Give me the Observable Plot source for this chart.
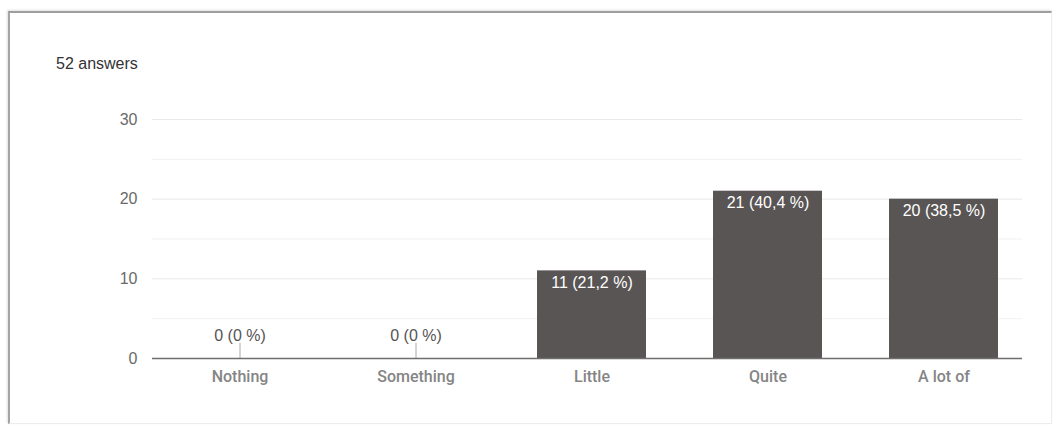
<!DOCTYPE html>
<html>
<head>
<meta charset="utf-8">
<script src="https://cdn.jsdelivr.net/npm/d3@7"></script>
<script src="https://cdn.jsdelivr.net/npm/@observablehq/plot@0.6"></script>
<style>
  html, body { margin: 0; padding: 0; background: #fff; }
  body { width: 1056px; height: 427px; position: relative; overflow: hidden; }
  .card {
    position: absolute; left: 8px; top: 11px; width: 1044px; height: 413px;
    border-top: 2px solid #9e9e9e; border-left: 2px solid #a4a4a4;
    border-right: 1px solid #ececec; border-bottom: 1px solid #ececec;
    box-shadow: -1px -1px 2px rgba(0,0,0,0.12);
    box-sizing: border-box;
  }
  .count {
    position: absolute; left: 56px; top: 55px;
    font: 16px "Liberation Sans", Arial, sans-serif; color: #333;
  }
  #chart { position: absolute; left: 0; top: 90px; }
</style>
</head>
<body>
<div class="card"></div>
<div class="count" id="count"></div>
<div id="chart"></div>
<script>
// Survey responses per answer option
const categories = ["Nothing", "Something", "Little", "Quite", "A lot of"];
const counts = [0, 0, 11, 21, 20];
const totalAnswers = 52;
const yTicks = [0, 10, 20, 30];
const yMajor = [10, 20, 30];
const yMinor = [5, 15, 25];

document.getElementById("count").textContent = `${totalAnswers} answers`;

const pct = v => {
  const p = (v / totalAnswers * 100).toFixed(1).replace(".", ",");
  return p.endsWith(",0") ? p.slice(0, -2) : p;
};
const rows = categories.map((c, i) => ({
  category: c,
  count: counts[i],
  label: `${counts[i]} (${pct(counts[i])} %)`
}));
const zeroRows = rows.filter(d => d.count === 0);
const barRows = rows.filter(d => d.count > 0);

const W = 1056, H = 310;
const chart = Plot.plot({
  width: W,
  height: H,
  marginLeft: 152,
  marginRight: W - 1022,
  marginTop: 29,
  marginBottom: 42,
  style: { fontFamily: "'Liberation Sans', Arial, sans-serif", fontSize: "16px", background: "transparent" },
  x: { domain: categories, range: [152, 1032], paddingInner: 0.38, paddingOuter: 0.19, label: null },
  y: { domain: [0, 30], label: null },
  marks: [
    Plot.gridY(yMinor, { stroke: "#f1f1f1", strokeOpacity: 1 }),
    Plot.gridY(yMajor, { stroke: "#e8e8e8", strokeOpacity: 1 }),
    Plot.axisY(yTicks, { tickSize: 0, tickPadding: 15, fill: "#6a6a6a", fontSize: 16, label: null }),
    Plot.axisX({ tickSize: 0, tickPadding: 12, fill: "#858585", fontSize: 16,
      fontFamily: "Roboto, 'Liberation Sans', sans-serif", fontWeight: 500, label: null }),
    Plot.barY(barRows, { x: "category", y: "count", fill: "#595555" }),
    // short stem marking a zero-height bar
    Plot.ruleX(zeroRows, { x: "category", y1: 0, y2: 1.9, stroke: "#a8a8a8", strokeWidth: 1 }),
    Plot.ruleY([0], { stroke: "#6e6e6e", strokeWidth: 1.5 }),
    Plot.text(barRows, { x: "category", y: "count", text: "label", fill: "#fff",
      dy: 12, fontSize: 16 }),
    Plot.text(zeroRows, { x: "category", y: 0, text: "label", fill: "#555",
      dy: -23, fontSize: 16 })
  ]
});
document.getElementById("chart").appendChild(chart);
</script>
</body>
</html>
